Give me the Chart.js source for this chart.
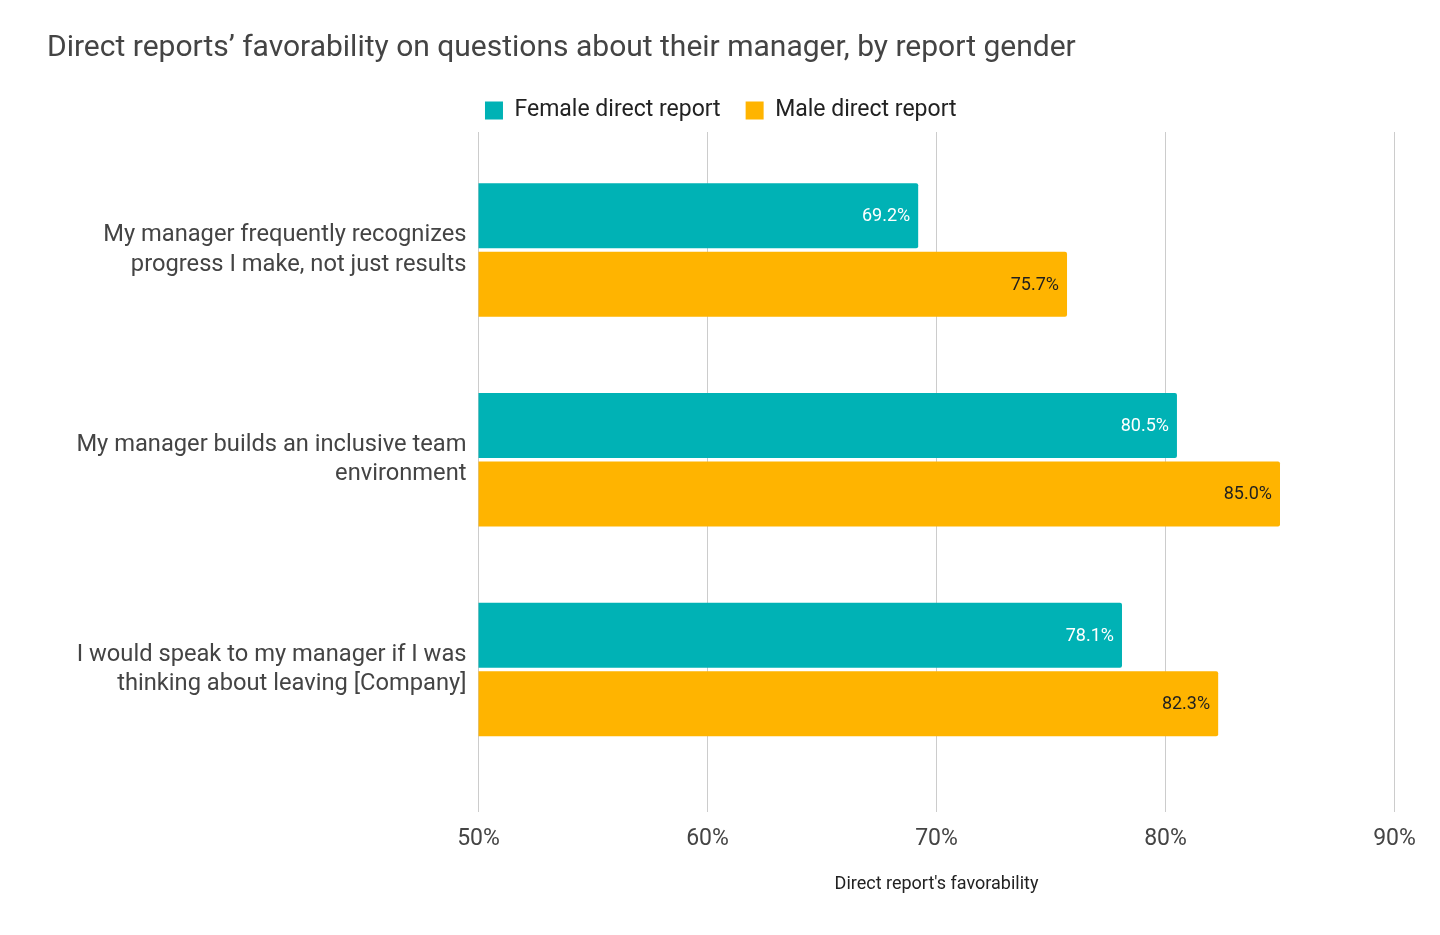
<!DOCTYPE html>
<html>
<head>
<meta charset="utf-8">
<script src="https://cdn.jsdelivr.net/npm/chart.js@4.4.0/dist/chart.umd.min.js"></script>
<style>
  html, body { margin: 0; padding: 0; background: #fff; }
  #wrap { width: 1440px; height: 935px; }
</style>
</head>
<body>
<div id="wrap"><canvas id="chart" width="1440" height="935"></canvas></div>
<script>
const questions = [
  ['My manager frequently recognizes', 'progress I make, not just results'],
  ['My manager builds an inclusive team', 'environment'],
  ['I would speak to my manager if I was', 'thinking about leaving [Company]'],
];
const femaleScores = [69.2, 80.5, 78.1];
const maleScores = [75.7, 85.0, 82.3];
const xTicks = [50, 60, 70, 80, 90];

const TEAL = '#00b2b5';
const AMBER = '#ffb400';

Chart.defaults.font.family = 'Roboto';

// value labels drawn inside the end of each bar
const barLabels = {
  id: 'barLabels',
  afterDatasetsDraw(chart) {
    const ctx = chart.ctx;
    const colors = ['#ffffff', '#1f1f1f'];
    ctx.save();
    ctx.font = '18px Roboto';
    ctx.textAlign = 'right';
    ctx.textBaseline = 'middle';
    chart.data.datasets.forEach((ds, di) => {
      chart.getDatasetMeta(di).data.forEach((bar, i) => {
        ctx.fillStyle = colors[di];
        ctx.fillText(ds.data[i].x.toFixed(1) + '%', bar.x - 8, bar.y + 1);
      });
    });
    ctx.restore();
  }
};

const toPoints = vals => vals.map((v, i) => ({ x: v, y: i }));

new Chart(document.getElementById('chart').getContext('2d'), {
  type: 'bar',
  data: {
    datasets: [
      {
        label: 'Female direct report',
        data: toPoints(femaleScores),
        backgroundColor: TEAL,
        borderRadius: 2,
        categoryPercentage: 0.652,
        barPercentage: 0.95,
      },
      {
        label: 'Male direct report',
        data: toPoints(maleScores),
        backgroundColor: AMBER,
        borderRadius: 2,
        categoryPercentage: 0.652,
        barPercentage: 0.95,
      },
    ],
  },
  options: {
    indexAxis: 'y',
    responsive: false,
    animation: false,
    events: [],
    layout: { padding: { left: 47, right: 45.5, top: 30, bottom: 40 } },
    plugins: {
      title: {
        display: true,
        text: 'Direct reports’ favorability on questions about their manager, by report gender',
        align: 'start',
        color: '#444444',
        font: { size: 30, weight: 'normal' },
        padding: { top: 0, bottom: 8 },
      },
      legend: {
        position: 'top',
        labels: {
          boxWidth: 18,
          boxHeight: 18,
          padding: 25,
          color: '#222222',
          font: { size: 23 },
        },
      },
      tooltip: { enabled: false },
    },
    scales: {
      x: {
        type: 'linear',
        min: 50,
        max: 90,
        afterBuildTicks: scale => { scale.ticks = xTicks.map(v => ({ value: v })); },
        grid: { color: '#cccccc', drawTicks: false },
        border: { display: false },
        ticks: {
          padding: 13.5,
          color: '#444444',
          font: { size: 23 },
          callback: v => v + '%',
        },
        title: {
          display: true,
          text: "Direct report's favorability",
          color: '#222222',
          font: { size: 18 },
          padding: { top: 7.1, bottom: 0.2 },
        },
      },
      y: {
        type: 'linear',
        reverse: true,
        offset: false,
        min: -0.5627,
        max: 2.677,
        afterBuildTicks: scale => { scale.ticks = questions.map((q, i) => ({ value: i })); },
        afterFit: scale => { scale.width = 431.5; },
        grid: { display: false, drawTicks: false },
        border: { display: false },
        ticks: {
          autoSkip: false,
          padding: 12,
          color: '#444444',
          font: { size: 23.7, lineHeight: 1.23 },
          callback: v => questions[v],
        },
      },
    },
  },
  plugins: [barLabels],
});
</script>
</body>
</html>
